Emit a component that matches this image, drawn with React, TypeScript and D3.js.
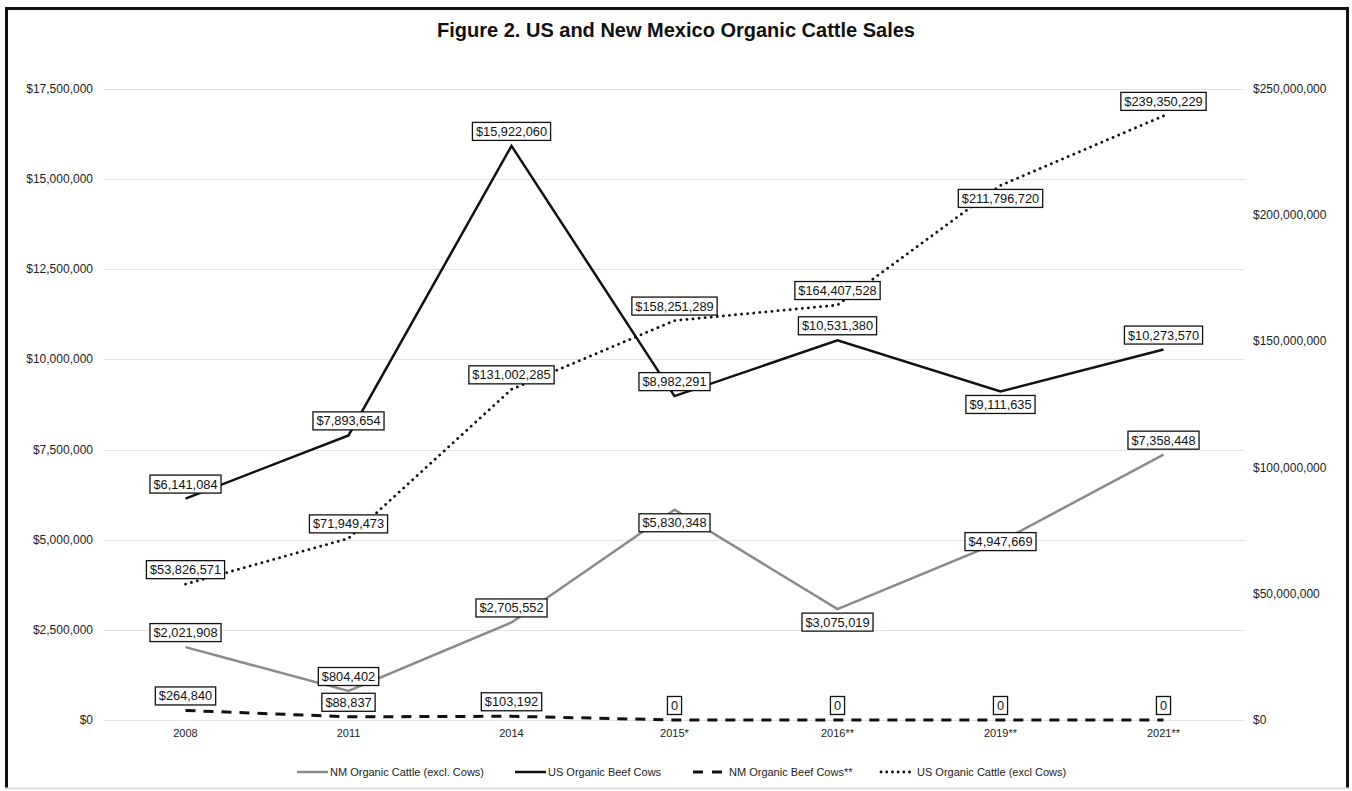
import React, { useEffect, useRef } from 'react';
import * as d3 from 'd3';

const years = ['2008', '2011', '2014', '2015*', '2016**', '2019**', '2021**'];

const nmCattle = [2021908, 804402, 2705552, 5830348, 3075019, 4947669, 7358448];
const usBeefCows = [6141084, 7893654, 15922060, 8982291, 10531380, 9111635, 10273570];
const nmBeefCows = [264840, 88837, 103192, 0, 0, 0, 0];
const usCattle = [53826571, 71949473, 131002285, 158251289, 164407528, 211796720, 239350229];

const leftTicks = [0, 2500000, 5000000, 7500000, 10000000, 12500000, 15000000, 17500000];
const rightTicks = [0, 50000000, 100000000, 150000000, 200000000, 250000000];

// where Excel put each data label relative to its point
const nmCattlePos = ['above', 'above', 'above', 'below', 'below', 'center', 'above'];
const usBeefPos = ['above', 'above', 'above', 'above', 'above', 'below', 'above'];
const nmBeefPos = ['above', 'above', 'above', 'above', 'above', 'above', 'above'];
const usCattlePos = ['above', 'above', 'above', 'above', 'above', 'below', 'above'];

const W = 1352;
const H = 791;
const margin = { top: 89, right: 107, bottom: 71, left: 104 };

const money = (v) => (v === 0 ? '0' : '$' + d3.format(',')(v));

const App = () => {
  const ref = useRef();

  useEffect(() => {
    const svg = d3.select(ref.current);
    svg.selectAll('*').remove();
    svg.attr('width', W).attr('height', H).style('font-family', 'Liberation Sans, Arial, sans-serif');

    svg.append('rect').attr('width', W).attr('height', H).attr('fill', '#fff');

    // frame
    svg
      .append('path')
      .attr('d', `M6.5,788 L6.5,8.5 L1347.5,8.5 L1347.5,788`)
      .attr('fill', 'none')
      .attr('stroke', '#111')
      .attr('stroke-width', 3);
    svg
      .append('line')
      .attr('x1', 5)
      .attr('x2', 1349)
      .attr('y1', 788.5)
      .attr('y2', 788.5)
      .attr('stroke', '#ddd')
      .attr('stroke-width', 2);

    svg
      .append('text')
      .attr('x', 676)
      .attr('y', 37)
      .attr('text-anchor', 'middle')
      .attr('font-size', 20)
      .attr('font-weight', 'bold')
      .attr('fill', '#111')
      .text('Figure 2. US and New Mexico Organic Cattle Sales');

    const innerW = W - margin.left - margin.right;
    const x = d3.scalePoint().domain(years).range([margin.left, W - margin.right]).padding(0.5);
    const yL = d3.scaleLinear().domain([0, 17500000]).range([720, margin.top]);
    const yR = d3.scaleLinear().domain([0, 250000000]).range([720, margin.top]);

    // gridlines
    svg
      .append('g')
      .selectAll('line')
      .data(leftTicks)
      .enter()
      .append('line')
      .attr('x1', margin.left)
      .attr('x2', margin.left + innerW)
      .attr('y1', (d) => Math.round(yL(d)) + 0.5)
      .attr('y2', (d) => Math.round(yL(d)) + 0.5)
      .attr('stroke', '#e3e3e3')
      .attr('stroke-width', 1);

    svg
      .append('g')
      .selectAll('text')
      .data(leftTicks)
      .enter()
      .append('text')
      .attr('x', 93)
      .attr('y', (d) => yL(d) + 4)
      .attr('text-anchor', 'end')
      .attr('font-size', 12)
      .attr('fill', '#222')
      .text((d) => '$' + d3.format(',')(d));

    svg
      .append('g')
      .selectAll('text')
      .data(rightTicks)
      .enter()
      .append('text')
      .attr('x', 1253)
      .attr('y', (d) => yR(d) + 4)
      .attr('text-anchor', 'start')
      .attr('font-size', 12)
      .attr('fill', '#222')
      .text((d) => '$' + d3.format(',')(d));

    svg
      .append('g')
      .selectAll('text')
      .data(years)
      .enter()
      .append('text')
      .attr('x', (d) => x(d))
      .attr('y', 737)
      .attr('text-anchor', 'middle')
      .attr('font-size', 11)
      .attr('fill', '#222')
      .text((d) => d);

    const series = [
      { name: 'NM Organic Cattle (excl. Cows)', values: nmCattle, y: yL, pos: nmCattlePos, color: '#8a8a8a', width: 2.5, dash: null, cap: 'butt' },
      { name: 'US Organic Beef Cows', values: usBeefCows, y: yL, pos: usBeefPos, color: '#111', width: 2.5, dash: null, cap: 'butt' },
      { name: 'NM Organic Beef Cows**', values: nmBeefCows, y: yL, pos: nmBeefPos, color: '#111', width: 3, dash: '10,8', cap: 'butt' },
      { name: 'US Organic Cattle (excl Cows)', values: usCattle, y: yR, pos: usCattlePos, color: '#111', width: 2.8, dash: '0.1,6', cap: 'round' },
    ];

    series.forEach((s) => {
      const line = d3
        .line()
        .x((d, i) => x(years[i]))
        .y((d) => s.y(d));
      svg
        .append('path')
        .datum(s.values)
        .attr('d', line)
        .attr('fill', 'none')
        .attr('stroke', s.color)
        .attr('stroke-width', s.width)
        .attr('stroke-linecap', s.cap)
        .attr('stroke-linejoin', 'miter')
        .attr('stroke-dasharray', s.dash);
    });

    // data labels
    series.forEach((s) => {
      s.values.forEach((v, i) => {
        const px = x(years[i]);
        const py = s.y(v);
        const off = s.pos[i] === 'above' ? -14.5 : s.pos[i] === 'below' ? 13 : 0;
        const g = svg.append('g').attr('transform', `translate(${px},${py + off})`);
        const t = g
          .append('text')
          .attr('text-anchor', 'middle')
          .attr('y', 4.5)
          .attr('font-size', 12.8)
          .attr('fill', '#111')
          .text(money(v));
        const w = t.node().getComputedTextLength();
        g.insert('rect', 'text')
          .attr('x', -w / 2 - 3.5)
          .attr('y', -9)
          .attr('width', w + 7)
          .attr('height', 18)
          .attr('fill', '#fff')
          .attr('stroke', '#111')
          .attr('stroke-width', 1.3);
      });
    });

    // legend
    const legendX = [297, 515, 693, 881];
    const lg = svg.append('g');
    series.forEach((s, i) => {
      const lx = legendX[i];
      lg.append('line')
        .attr('x1', lx)
        .attr('x2', lx + 31)
        .attr('y1', 772)
        .attr('y2', 772)
        .attr('stroke', s.color)
        .attr('stroke-width', s.width)
        .attr('stroke-linecap', s.cap)
        .attr('stroke-dasharray', s.dash ? (s.cap === 'round' ? '0.1,5.6' : '10,9') : null);
      lg.append('text')
        .attr('x', lx + (s.dash ? 36 : 33))
        .attr('y', 776)
        .attr('font-size', 11)
        .attr('fill', '#222')
        .text(s.name);
    });
  }, []);

  return (
    <div style={{ position: 'absolute', left: 0, top: 0 }}>
      <svg ref={ref}></svg>
    </div>
  );
};

export default App;
